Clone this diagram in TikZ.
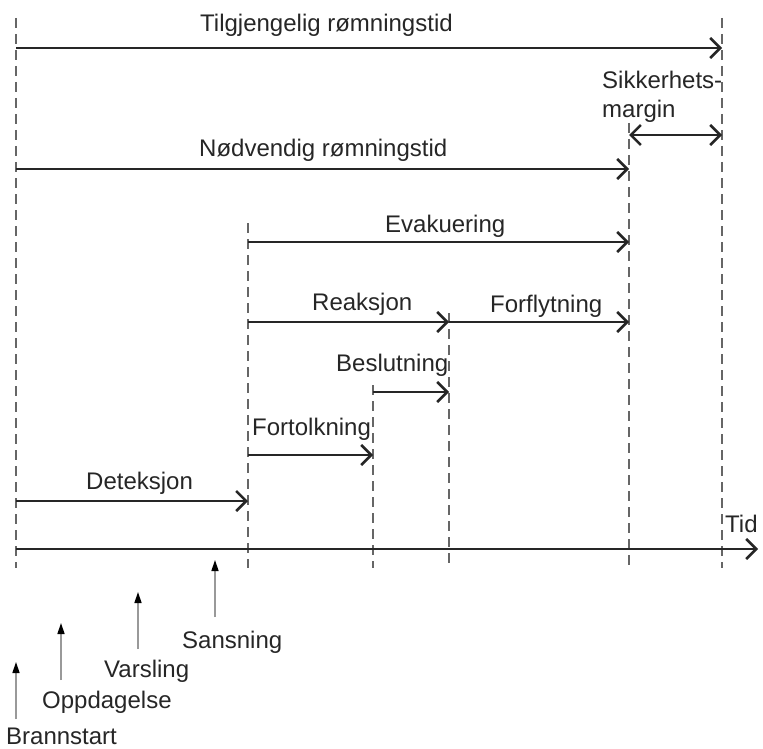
\documentclass[tikz,border=0pt]{standalone}
\usepackage{fontspec}
\setmainfont{Liberation Sans}
\usetikzlibrary{arrows.meta}

\tikzset{
  markline/.style={draw=black!60, line width=1.1pt, dash pattern=on 10pt off 6pt},
  span/.style={draw=black!85, line width=2.5pt, -{Straight Barb[length=10pt,width=20pt]}},
  twoway/.style={draw=black!85, line width=2.5pt, {Straight Barb[length=10pt,width=20pt]}-{Straight Barb[length=10pt,width=20pt]}},
  event/.style={draw=black!40, line width=1.4pt, -{Triangle[length=11pt,width=7pt,color=black]}},
  lbl/.style={anchor=base west, inner sep=0pt, text=black!85, font=\fontsize{24}{29}\selectfont},
}

\begin{document}
\begin{tikzpicture}[x=1pt, y=-1pt]
    \useasboundingbox (0,0) rectangle (763,749);
    % time marks: name / x / top of dashed line
    \foreach \n/\x/\top in {t0/16/18, t1/248/223, t2/373/385, t3/449/313, t4/629/123, t5/722/18} {
        \coordinate (\n) at (\x,\top);
        \coordinate (\n-low) at (\x,568);
        \draw[markline] (\n) -- (\n-low);
    }
    % rows
    \coordinate (avail) at (0,48);
    \coordinate (safe) at (0,135);
    \coordinate (need) at (0,169);
    \coordinate (evac) at (0,242);
    \coordinate (react) at (0,322);
    \coordinate (decide) at (0,392);
    \coordinate (interp) at (0,455);
    \coordinate (detect) at (0,501);
    \coordinate (axis) at (0,549);
    \coordinate (axis-end) at (758,549);

    \draw[span] (t0 |- avail) -- (t5 |- avail);
    \node[lbl] (avail-txt) at (200,32) {Tilgjengelig rømningstid};

    \draw[twoway] (t4 |- safe) -- (t5 |- safe);
    \node[lbl] (safe-txt1) at (602,89) {Sikkerhets-};
    \node[lbl] (safe-txt2) at (602,118) {margin};

    \draw[span] (t0 |- need) -- (t4 |- need);
    \node[lbl] (need-txt) at (199,157) {Nødvendig rømningstid};

    \draw[span] (t1 |- evac) -- (t4 |- evac);
    \node[lbl] (evac-txt) at (385,232) {Evakuering};

    \draw[span] (t1 |- react) -- (t3 |- react);
    \node[lbl] (react-txt) at (312,310) {Reaksjon};
    \draw[span] (t3 |- react) -- (t4 |- react);
    \node[lbl] (move-txt) at (490,312) {Forflytning};

    \draw[span] (t2 |- decide) -- (t3 |- decide);
    \node[lbl] (decide-txt) at (336,371) {Beslutning};

    \draw[span] (t1 |- interp) -- (t2 |- interp);
    \node[lbl] (interp-txt) at (252,435) {Fortolkning};

    \draw[span] (t0 |- detect) -- (t1 |- detect);
    \node[lbl] (detect-txt) at (86,489) {Deteksjon};

    \draw[span] (t0 |- axis) -- (axis-end);
    \node[lbl] (axis-txt) at (725,532) {Tid};

    % events below the time axis
    \foreach \n/\x/\y/\t/\lx/\ly in {brann/16/662/Brannstart/6/744, oppdag/61/623/Oppdagelse/42/708,
                                     varsl/138/592/Varsling/104/677, sans/215/560/Sansning/182/648} {
        \coordinate (\n) at (\x,\y);
        \node[lbl] (\n-txt) at (\lx,\ly) {\t};
        \draw[event] ([yshift=-57pt]\n) -- (\n);
    }
\end{tikzpicture}
\end{document}
